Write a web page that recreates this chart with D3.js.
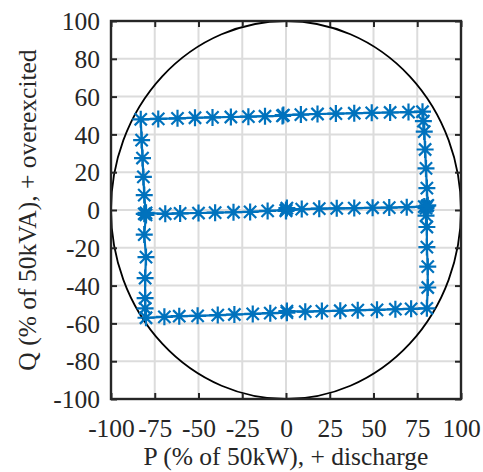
<!DOCTYPE html>
<html><head><meta charset="utf-8">
<script src="https://cdn.jsdelivr.net/npm/d3@7"></script>
<style>body{margin:0;background:#fff}svg{display:block}svg text{font-family:"Liberation Serif","Times New Roman",serif}</style>
</head><body>
<script>
// ---- data ----
const xTicks = [-100,-75,-50,-25,0,25,50,75,100];
const yTicks = [-100,-80,-60,-40,-20,0,20,40,60,80,100];
const xLabel = "P (% of 50kW), + discharge";
const yLabel = "Q (% of 50kVA), + overexcited";
// measured trajectory, P values
const pVals = [
 // middle line, left to right
 -81,-80,-69,-60.5,-50,-40.5,-30,-20.5,-10.5,0,0.5,0,9,19,29,39,49.5,59,69,79,80,81,
 // right side going up
 80.5,80,79.5,79,78.5,78,
 // top line going left
 70,59.5,49,39,28.5,18,8.5,-1.5,-2,-12,-21.5,-31.5,-42,-52,-62,-73,-83,
 // left side going down
 -82.5,-82,-81.5,-81,-80,-81,-80,-80.5,-80.5,-80.5,-80,
 // bottom line going right
 -69.5,-61,-50.5,-39,-29.5,-19,-9,0.5,0.5,11,20.5,31,41,52,62.5,71.5,80.5,
 // right side going up
 81,81,80.5,80.5,80,80.5
];
// measured trajectory, Q values
const qVals = [
 -2,-1.5,-2,-1.8,-1.6,-1.4,-1.2,-1,-0.5,0,1,-0.5,0.5,0.7,0.9,1,1.2,1.3,1.5,1.8,1,2.5,
 11.6,22,32,41.5,47,52,
 51.8,51.6,51.4,51.2,51,50.8,50.5,50.2,49.8,49.6,49.4,49.2,49,48.8,48.5,48.2,48,
 37,27.5,17.5,7.9,-2.6,-13,-24.9,-36,-46.6,-52,-57,
 -56.5,-56.2,-56,-55.6,-55.3,-55,-54.6,-54.3,-53.5,-53.8,-53.5,-53.3,-53,-52.8,-52.5,-52.3,-52,
 -41,-30,-19.6,-9,-3,2
];

const W = 483, H = 472;
const m = {left:111, right:461, top:21, bottom:399};
const x = d3.scaleLinear().domain([-100,100]).range([m.left, m.right]);
const y = d3.scaleLinear().domain([-100,100]).range([m.bottom, m.top]);
const font = "Liberation Serif, Times New Roman, serif";
const fs = 25.5;
const blue = "#0072BD";
const ink = "#262626";

const svg = d3.select("body").append("svg").attr("width",W).attr("height",H);

// grid
const g = svg.append("g");
g.selectAll(".gx").data(xTicks.slice(1,-1)).join("line")
  .attr("x1",d=>x(d)).attr("x2",d=>x(d)).attr("y1",m.top).attr("y2",m.bottom)
  .attr("stroke","#dcdcdc").attr("stroke-width",2);
g.selectAll(".gy").data(yTicks.slice(1,-1)).join("line")
  .attr("y1",d=>y(d)).attr("y2",d=>y(d)).attr("x1",m.left).attr("x2",m.right)
  .attr("stroke","#dcdcdc").attr("stroke-width",2);

// circle (radius 100 in data units)
svg.append("ellipse").attr("cx",x(0)).attr("cy",y(0))
  .attr("rx",x(100)-x(0)).attr("ry",y(0)-y(100))
  .attr("fill","none").attr("stroke","#000").attr("stroke-width",1.8);

// data line
const pts = pVals.map((p,i)=>[p,qVals[i]]);
svg.append("path").datum(pts)
  .attr("d", d3.line().x(d=>x(d[0])).y(d=>y(d[1])))
  .attr("fill","none").attr("stroke",blue).attr("stroke-width",2.2);

// asterisk markers
const r = 8.5, rd = r*0.72;
const star = `M${-r},0L${r},0M0,${-r}L0,${r}M${-rd},${-rd}L${rd},${rd}M${-rd},${rd}L${rd},${-rd}`;
svg.append("g").selectAll("path").data(pts).join("path")
  .attr("transform",d=>`translate(${x(d[0])},${y(d[1])})`)
  .attr("d",star).attr("fill","none").attr("stroke",blue).attr("stroke-width",2.2);

// axes
const tl = 6;
const fmt = d => String(d);
const ax = svg.append("g").attr("transform",`translate(0,${m.bottom})`)
  .call(d3.axisBottom(x).tickValues(xTicks).tickSize(-tl).tickPadding(20).tickFormat(fmt));
const axT = svg.append("g").attr("transform",`translate(0,${m.top})`)
  .call(d3.axisTop(x).tickValues(xTicks).tickSize(-tl).tickFormat(""));
const ay = svg.append("g").attr("transform",`translate(${m.left},0)`)
  .call(d3.axisLeft(y).tickValues(yTicks).tickSize(-tl).tickPadding(11).tickFormat(fmt));
const ayR = svg.append("g").attr("transform",`translate(${m.right},0)`)
  .call(d3.axisRight(y).tickValues(yTicks).tickSize(-tl).tickFormat(""));
[ax,axT,ay,ayR].forEach(a=>{
  a.attr("font-family",font).attr("font-size",fs);
  a.select(".domain").remove();
  a.selectAll(".tick line").attr("stroke",ink).attr("stroke-width",2);
  a.selectAll("text").attr("fill",ink);
});
ax.selectAll("text").attr("dy","0.71em");
ay.selectAll("text").attr("dy","0.34em");

// box
svg.append("rect").attr("x",m.left).attr("y",m.top)
  .attr("width",m.right-m.left).attr("height",m.bottom-m.top)
  .attr("fill","none").attr("stroke",ink).attr("stroke-width",2.4);

// labels
svg.append("text").attr("x",x(0)).attr("y",465).attr("text-anchor","middle")
  .attr("fill",ink).attr("font-family",font).attr("font-size",fs).text(xLabel);
svg.append("text").attr("transform",`translate(36,${y(0)}) rotate(-90)`)
  .attr("text-anchor","middle").attr("fill",ink)
  .attr("font-family",font).attr("font-size",fs).text(yLabel);
</script>
</body></html>
